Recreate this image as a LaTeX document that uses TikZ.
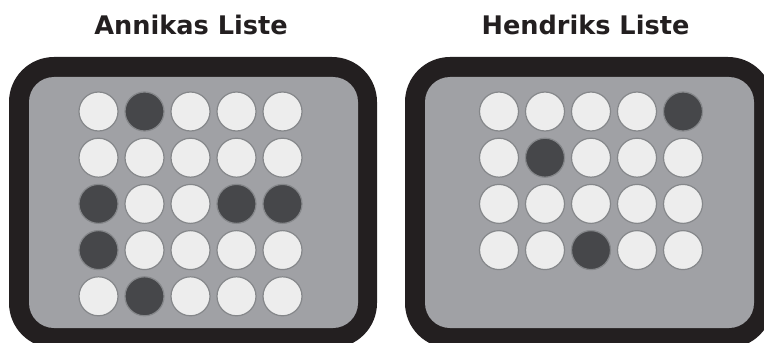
\documentclass[tikz,border=0pt]{standalone}
\usepackage{fontspec}
\setmainfont{DejaVu Sans}
\definecolor{framecol}{HTML}{231F20}
\definecolor{traycol}{HTML}{A0A1A5}
\definecolor{lightcol}{HTML}{EDEDED}
\definecolor{darkcol}{HTML}{46474A}
\definecolor{rimcol}{HTML}{85878A}
\begin{document}
\begin{tikzpicture}[x=0.5pt,y=-0.5pt,
    title/.style={font=\fontsize{12.8}{15}\selectfont\bfseries, text=framecol, anchor=base},
    frame/.style={fill=framecol, rounded corners=22.5pt},
    tray/.style={fill=traycol, rounded corners=12.5pt},
    disc/.style={circle, draw=rimcol, line width=0.6pt, minimum size=19.5pt, inner sep=0pt},
    lt/.style={fill=lightcol},
    dk/.style={fill=darkcol}
]
    \useasboundingbox (0,0) rectangle (764,342);
    \clip (0,0) rectangle (764,342);

    % Annika
    \node[title] (titleA) at (191,35) {Annikas Liste};
    \fill[frame] (9,57) rectangle (377,348);
    \fill[tray] (29,77) rectangle (358,328);
    \foreach \r/\row in {1/{lt,dk,lt,lt,lt}, 2/{lt,lt,lt,lt,lt}, 3/{dk,lt,lt,dk,dk}, 4/{dk,lt,lt,lt,lt}, 5/{lt,dk,lt,lt,lt}}
        \foreach \s [count=\c] in \row
            \node[disc, \s] (a-\r-\c) at ({98.5+46*(\c-1)}, {111.5+46.2*(\r-1)}) {};

    % Hendrik
    \node[title] (titleH) at (585.5,35) {Hendriks Liste};
    \fill[frame] (405,57) rectangle (773,348);
    \fill[tray] (425,77) rectangle (754,328);
    \foreach \r/\row in {1/{lt,lt,lt,lt,dk}, 2/{lt,dk,lt,lt,lt}, 3/{lt,lt,lt,lt,lt}, 4/{lt,lt,dk,lt,lt}}
        \foreach \s [count=\c] in \row
            \node[disc, \s] (h-\r-\c) at ({499+46*(\c-1)}, {111.5+46.2*(\r-1)}) {};
\end{tikzpicture}
\end{document}
